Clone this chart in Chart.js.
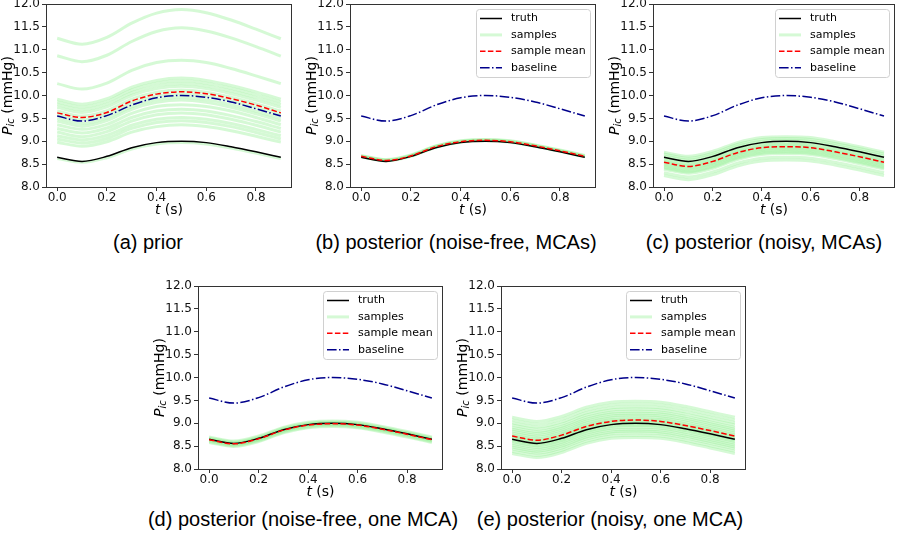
<!DOCTYPE html>
<html>
<head>
<meta charset="utf-8">
<script src="https://cdn.jsdelivr.net/npm/chart.js@4.4.0/dist/chart.umd.min.js"></script>
<style>
  body { margin: 0; background: #fff; width: 900px; height: 534px; position: relative; overflow: hidden; }
  canvas { position: absolute; }
  .cap { position: absolute; font-family: "Liberation Sans", Arial, sans-serif; font-size: 20px; color: #000;
         white-space: nowrap; transform: translate(-50%, -50%); line-height: 24px; }
</style>
</head>
<body>
<div class="cap" style="left:148px;top:242px">(a) prior</div>
<div class="cap" style="left:456px;top:242px">(b) posterior (noise-free, MCAs)</div>
<div class="cap" style="left:764px;top:242px">(c) posterior (noisy, MCAs)</div>
<div class="cap" style="left:303px;top:519px">(d) posterior (noise-free, one MCA)</div>
<div class="cap" style="left:610px;top:519px">(e) posterior (noisy, one MCA)</div>
<script>
'use strict';

// time axis + tick labels
const t = [0.0, 0.1, 0.2, 0.3, 0.4, 0.5, 0.6, 0.7, 0.8, 0.9];
const xTicks = [0.0, 0.2, 0.4, 0.6, 0.8];
const yTicks = [8.0, 8.5, 9.0, 9.5, 10.0, 10.5, 11.0, 11.5, 12.0];
const legendLabels = ['truth', 'samples', 'sample mean', 'baseline'];

// shared curves
const truth    = [8.65, 8.56, 8.67, 8.86, 8.97, 9.00, 8.97, 8.88, 8.77, 8.65];
const baseline = [9.55, 9.44, 9.56, 9.79, 9.95, 10.00, 9.96, 9.86, 9.71, 9.55];

// (a) prior
const meanA = [9.62, 9.52, 9.63, 9.88, 10.03, 10.08, 10.04, 9.93, 9.79, 9.62];
const samplesA = [
  [11.25, 11.12, 11.27, 11.58, 11.80, 11.88, 11.81, 11.65, 11.45, 11.24],
  [10.87, 10.74, 10.88, 11.18, 11.40, 11.48, 11.41, 11.26, 11.07, 10.86],
  [10.26, 10.14, 10.27, 10.55, 10.72, 10.77, 10.72, 10.59, 10.43, 10.26],
  [9.92, 9.81, 9.93, 10.18, 10.33, 10.38, 10.33, 10.22, 10.08, 9.92],
  [9.86, 9.75, 9.87, 10.12, 10.27, 10.32, 10.27, 10.16, 10.02, 9.86],
  [9.80, 9.69, 9.81, 10.06, 10.21, 10.26, 10.21, 10.10, 9.96, 9.80],
  [9.74, 9.63, 9.75, 10.00, 10.15, 10.20, 10.15, 10.04, 9.90, 9.74],
  [9.66, 9.55, 9.67, 9.92, 10.07, 10.12, 10.07, 9.96, 9.82, 9.66],
  [9.58, 9.47, 9.59, 9.84, 9.99, 10.04, 9.99, 9.88, 9.74, 9.58],
  [9.50, 9.39, 9.51, 9.76, 9.91, 9.96, 9.91, 9.80, 9.66, 9.50],
  [9.44, 9.33, 9.45, 9.70, 9.85, 9.90, 9.85, 9.74, 9.60, 9.44],
  [9.36, 9.26, 9.37, 9.61, 9.76, 9.80, 9.76, 9.66, 9.52, 9.36],
  [9.28, 9.18, 9.29, 9.52, 9.66, 9.70, 9.66, 9.56, 9.43, 9.28],
  [9.20, 9.10, 9.21, 9.44, 9.58, 9.62, 9.58, 9.48, 9.35, 9.20],
  [9.12, 9.03, 9.13, 9.35, 9.48, 9.52, 9.48, 9.39, 9.26, 9.12],
  [9.05, 8.96, 9.06, 9.28, 9.41, 9.45, 9.41, 9.32, 9.19, 9.05],
  [8.98, 8.89, 8.99, 9.20, 9.32, 9.36, 9.32, 9.23, 9.11, 8.98],
  [8.62, 8.54, 8.64, 8.83, 8.94, 8.97, 8.94, 8.85, 8.74, 8.62]
];

// (b) noise-free, MCAs
const meanB = [8.67, 8.58, 8.68, 8.88, 8.99, 9.02, 8.99, 8.90, 8.79, 8.67];
const samplesB = [
  [8.66, 8.57, 8.67, 8.87, 8.98, 9.01, 8.98, 8.89, 8.78, 8.66],
  [8.67, 8.58, 8.68, 8.88, 8.99, 9.02, 8.99, 8.90, 8.79, 8.67],
  [8.68, 8.59, 8.69, 8.89, 9.00, 9.03, 9.00, 8.91, 8.80, 8.68],
  [8.69, 8.60, 8.70, 8.90, 9.01, 9.04, 9.01, 8.92, 8.81, 8.69]
];

// (c) noisy, MCAs
const meanC = [8.54, 8.45, 8.56, 8.75, 8.86, 8.88, 8.86, 8.77, 8.66, 8.54];
const samplesC = [
  [8.76, 8.67, 8.78, 8.97, 9.08, 9.10, 9.08, 8.99, 8.88, 8.76],
  [8.72, 8.63, 8.74, 8.93, 9.04, 9.06, 9.04, 8.95, 8.84, 8.72],
  [8.68, 8.59, 8.70, 8.89, 9.00, 9.02, 9.00, 8.91, 8.80, 8.68],
  [8.64, 8.55, 8.66, 8.85, 8.96, 8.98, 8.96, 8.87, 8.76, 8.64],
  [8.60, 8.51, 8.62, 8.81, 8.92, 8.94, 8.92, 8.83, 8.72, 8.60],
  [8.57, 8.48, 8.59, 8.78, 8.89, 8.91, 8.89, 8.80, 8.69, 8.57],
  [8.54, 8.45, 8.56, 8.75, 8.86, 8.88, 8.86, 8.77, 8.66, 8.54],
  [8.51, 8.42, 8.53, 8.72, 8.83, 8.85, 8.83, 8.74, 8.63, 8.51],
  [8.48, 8.39, 8.50, 8.69, 8.80, 8.82, 8.80, 8.71, 8.60, 8.48],
  [8.45, 8.36, 8.47, 8.66, 8.77, 8.79, 8.77, 8.68, 8.57, 8.45],
  [8.42, 8.33, 8.44, 8.63, 8.74, 8.76, 8.74, 8.65, 8.54, 8.42],
  [8.39, 8.30, 8.41, 8.60, 8.71, 8.73, 8.71, 8.62, 8.51, 8.39],
  [8.31, 8.22, 8.33, 8.52, 8.63, 8.65, 8.63, 8.54, 8.43, 8.31],
  [8.25, 8.16, 8.27, 8.46, 8.57, 8.59, 8.57, 8.48, 8.37, 8.25]
];

// (d) noise-free, one MCA
const meanD = [8.64, 8.55, 8.66, 8.85, 8.96, 8.99, 8.96, 8.87, 8.76, 8.64];
const samplesD = [
  [8.58, 8.49, 8.60, 8.79, 8.90, 8.93, 8.90, 8.81, 8.70, 8.58],
  [8.60, 8.51, 8.62, 8.81, 8.92, 8.95, 8.92, 8.83, 8.72, 8.60],
  [8.62, 8.53, 8.64, 8.83, 8.94, 8.97, 8.94, 8.85, 8.74, 8.62],
  [8.64, 8.55, 8.66, 8.85, 8.96, 8.99, 8.96, 8.87, 8.76, 8.64],
  [8.66, 8.57, 8.68, 8.87, 8.98, 9.01, 8.98, 8.89, 8.78, 8.66],
  [8.68, 8.59, 8.70, 8.89, 9.00, 9.03, 9.00, 8.91, 8.80, 8.68],
  [8.70, 8.61, 8.72, 8.91, 9.02, 9.05, 9.02, 8.93, 8.82, 8.70]
];

// (e) noisy, one MCA
const meanE = [8.72, 8.63, 8.74, 8.93, 9.04, 9.07, 9.04, 8.95, 8.84, 8.72];
const samplesE = [
  [9.13, 9.04, 9.15, 9.35, 9.46, 9.48, 9.46, 9.37, 9.25, 9.13],
  [9.07, 8.98, 9.09, 9.29, 9.40, 9.42, 9.40, 9.31, 9.19, 9.07],
  [9.01, 8.92, 9.03, 9.23, 9.34, 9.36, 9.34, 9.25, 9.13, 9.01],
  [8.96, 8.87, 8.98, 9.18, 9.29, 9.31, 9.29, 9.20, 9.08, 8.96],
  [8.91, 8.82, 8.93, 9.13, 9.24, 9.26, 9.24, 9.15, 9.03, 8.91],
  [8.87, 8.78, 8.89, 9.09, 9.20, 9.22, 9.20, 9.11, 8.99, 8.87],
  [8.83, 8.74, 8.85, 9.05, 9.16, 9.18, 9.16, 9.07, 8.95, 8.83],
  [8.79, 8.70, 8.81, 9.01, 9.12, 9.14, 9.12, 9.03, 8.91, 8.79],
  [8.75, 8.66, 8.77, 8.97, 9.08, 9.10, 9.08, 8.99, 8.87, 8.75],
  [8.72, 8.63, 8.74, 8.94, 9.05, 9.07, 9.05, 8.96, 8.84, 8.72],
  [8.69, 8.60, 8.71, 8.91, 9.02, 9.04, 9.02, 8.93, 8.81, 8.69],
  [8.66, 8.57, 8.68, 8.88, 8.99, 9.01, 8.99, 8.90, 8.78, 8.66],
  [8.63, 8.54, 8.65, 8.85, 8.96, 8.98, 8.96, 8.87, 8.75, 8.63],
  [8.60, 8.51, 8.62, 8.82, 8.93, 8.95, 8.93, 8.84, 8.72, 8.60],
  [8.56, 8.47, 8.58, 8.78, 8.89, 8.91, 8.89, 8.80, 8.68, 8.56],
  [8.52, 8.43, 8.54, 8.74, 8.85, 8.87, 8.85, 8.76, 8.64, 8.52],
  [8.48, 8.39, 8.50, 8.70, 8.81, 8.83, 8.81, 8.72, 8.60, 8.48],
  [8.44, 8.35, 8.46, 8.66, 8.77, 8.79, 8.77, 8.68, 8.56, 8.44],
  [8.39, 8.30, 8.41, 8.61, 8.72, 8.74, 8.72, 8.63, 8.51, 8.39],
  [8.34, 8.25, 8.36, 8.56, 8.67, 8.69, 8.67, 8.58, 8.46, 8.34]
];

//line styles
const STYLE = {
  truth:    { color: '#000000', width: 1.5, dash: [] },
  samples:  { color: 'rgba(144,238,144,0.38)', width: 3, dash: [] },
  mean:     { color: '#ff0000', width: 1.5, dash: [5.5, 2.4] },
  baseline: { color: '#00008b', width: 1.5, dash: [9.6, 2.4, 1.5, 2.4] }
};
const legendStyles = [STYLE.truth, STYLE.samples, STYLE.mean, STYLE.baseline];

// plot-area rectangles in page pixels
const panels = [
  { L: 46,  T: 4,   R: 292, B: 187, mean: meanA, samples: samplesA, legend: false },
  { L: 350, T: 4,   R: 596, B: 187, mean: meanB, samples: samplesB, legend: true },
  { L: 653, T: 4,   R: 895, B: 187, mean: meanC, samples: samplesC, legend: true },
  { L: 198, T: 286, R: 443, B: 469, mean: meanD, samples: samplesD, legend: true },
  { L: 501, T: 286, R: 746, B: 469, mean: meanE, samples: samplesE, legend: true }
];

const pts = arr => t.map((x, i) => ({ x: x, y: arr[i] }));

function lineSet(label, arr, st) {
  return {
    label: label, data: pts(arr),
    borderColor: st.color, borderWidth: st.width, borderDash: st.dash,
    pointRadius: 0, fill: false, cubicInterpolationMode: 'monotone'
  };
}

// frame + axis titles (P_ic with subscript, italic t)
const frameTitles = {
  id: 'frameTitles',
  afterDraw(chart) {
    const ctx = chart.ctx, a = chart.chartArea;
    ctx.save();
    ctx.strokeStyle = '#333';
    ctx.lineWidth = 1;
    ctx.setLineDash([]);
    ctx.strokeRect(Math.round(a.left) + 0.5, Math.round(a.top) + 0.5,
                   Math.round(a.right - a.left) - 1, Math.round(a.bottom - a.top));

    ctx.fillStyle = '#000';
    ctx.textBaseline = 'middle';
    // x title
    const fI = 'italic 14px "DejaVu Sans"', fN = '14px "DejaVu Sans"';
    ctx.font = fI; const wt = ctx.measureText('t').width;
    ctx.font = fN; const ws = ctx.measureText(' (s)').width;
    let x = (a.left + a.right) / 2 - (wt + ws) / 2;
    const yx = a.bottom + 23;
    ctx.textAlign = 'left';
    ctx.font = fI; ctx.fillText('t', x, yx);
    ctx.font = fN; ctx.fillText(' (s)', x + wt, yx);

    // y title, rotated
    const fSub = 'italic 10px "DejaVu Sans"';
    ctx.font = fI; const wP = ctx.measureText('P').width;
    ctx.font = fSub; const wSub = ctx.measureText('ic').width;
    ctx.font = fN; const wU = ctx.measureText(' (mmHg)').width;
    const total = wP + wSub + wU;
    ctx.translate(a.left - 38, (a.top + a.bottom) / 2);
    ctx.rotate(-Math.PI / 2);
    let p = -total / 2;
    ctx.font = fI; ctx.fillText('P', p, 0); p += wP;
    ctx.font = fSub; ctx.fillText('ic', p, 3.5); p += wSub;
    ctx.font = fN; ctx.fillText(' (mmHg)', p, 0);
    ctx.restore();
  }
};

// legend box in the upper right of the axes
const boxLegend = {
  id: 'boxLegend',
  afterDatasetsDraw(chart, args, opts) {
    if (!opts.show) return;
    const ctx = chart.ctx, a = chart.chartArea;
    const w = 114, h = 68;
    const x0 = a.right - 6 - w, y0 = a.top + 5;
    ctx.save();
    ctx.beginPath();
    ctx.roundRect(x0 + 0.5, y0 + 0.5, w, h, 3);
    ctx.fillStyle = 'rgba(255,255,255,0.85)';
    ctx.fill();
    ctx.strokeStyle = '#d0d0d0';
    ctx.lineWidth = 1;
    ctx.stroke();
    ctx.font = '11px "DejaVu Sans"';
    ctx.textBaseline = 'middle';
    ctx.textAlign = 'left';
    legendLabels.forEach((lab, i) => {
      const st = legendStyles[i];
      const y = y0 + 9.5 + i * 16.4;
      ctx.beginPath();
      ctx.setLineDash(st.dash);
      ctx.strokeStyle = st.color;
      ctx.lineWidth = st.width;
      ctx.moveTo(x0 + 4, y);
      ctx.lineTo(x0 + 26, y);
      ctx.stroke();
      ctx.fillStyle = '#000';
      ctx.fillText(lab, x0 + 35, y);
    });
    ctx.restore();
  }
};

const padT = 10, padR = 5, yW = 46, xH = 40;

panels.forEach(p => {
  const c = document.createElement('canvas');
  const w = p.R - p.L + yW + padR, h = p.B - p.T + padT + xH;
  c.width = w; c.height = h;
  c.style.width = w + 'px'; c.style.height = h + 'px';
  c.style.left = (p.L - yW) + 'px'; c.style.top = (p.T - padT) + 'px';
  document.body.appendChild(c);

  const datasets = [
    lineSet('sample mean', p.mean, STYLE.mean),
    lineSet('truth', truth, STYLE.truth),
    lineSet('baseline', baseline, STYLE.baseline)
  ];
  p.samples.forEach(s => datasets.push(lineSet('samples', s, STYLE.samples)));

  const tickFont = { family: 'DejaVu Sans', size: 12 };
  const grid = { drawOnChartArea: false, drawTicks: true, tickLength: 4, color: '#333', lineWidth: 1 };

  new Chart(c, {
    type: 'line',
    data: { datasets: datasets },
    options: {
      responsive: false,
      animation: false,
      layout: { padding: { left: 0, top: padT, right: padR, bottom: 0 } },
      plugins: {
        legend: { display: false },
        tooltip: { enabled: false },
        boxLegend: { show: p.legend }
      },
      scales: {
        x: {
          type: 'linear', min: -0.045, max: 0.945,
          afterBuildTicks: s => { s.ticks = xTicks.map(v => ({ value: v })); },
          afterFit: s => { s.height = xH; },
          grid: grid, border: { display: false },
          ticks: { padding: 0, color: '#111', font: tickFont, maxRotation: 0, autoSkip: false,
                   callback: v => Number(v).toFixed(1) }
        },
        y: {
          type: 'linear', min: 8, max: 12,
          afterBuildTicks: s => { s.ticks = yTicks.map(v => ({ value: v })); },
          afterFit: s => { s.width = yW; },
          grid: grid, border: { display: false },
          ticks: { padding: 2, color: '#111', font: tickFont, autoSkip: false,
                   callback: v => Number(v).toFixed(1) }
        }
      }
    },
    plugins: [boxLegend, frameTitles]
  });
});
</script>
</body>
</html>
